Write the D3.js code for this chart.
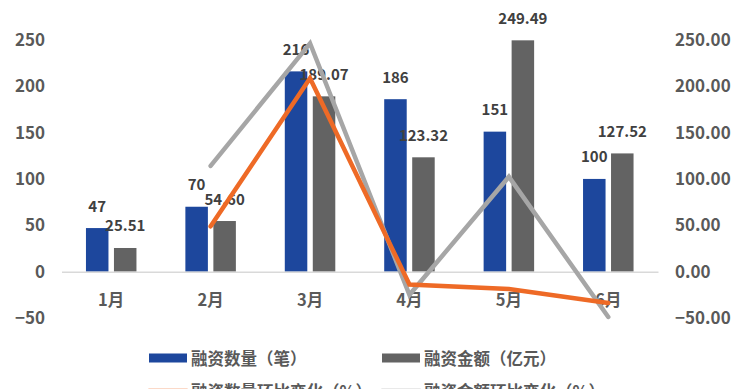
<!DOCTYPE html>
<html><head><meta charset="utf-8">
<script src="https://cdn.jsdelivr.net/npm/d3@7"></script>
<style>body{margin:0;background:#fff;}svg{display:block;}</style>
</head><body><div id="chart"></div>
<script>
const months = ["1月","2月","3月","4月","5月","6月"];
const countValues = [47, 70, 216, 186, 151, 100];
const amountValues = [25.51, 54.60, 189.07, 123.32, 249.49, 127.52];
const countMoM = [null, 48.9, 208.6, -13.9, -18.8, -33.8];
const amountMoM = [null, 114.0, 246.3, -25.0, 102.3, -48.9];
const leftTicks = [-50, 0, 50, 100, 150, 200, 250];
const rightTicks = [-50, 0, 50, 100, 150, 200, 250];
const seriesNames = ["融资数量（笔）", "融资金额（亿元）", "融资数量环比变化（%）", "融资金额环比变化（%）"];
const colors = {count:"#1D479D", amount:"#636363", countLine:"#EE6A26", amountLine:"#A6A6A6"};

const W = 750, H = 389;
const font = "'Noto Sans CJK SC','Noto Sans',sans-serif";
const svg = d3.select("#chart").append("svg").attr("width", W).attr("height", H)
  .style("font-family", font);

const x = d3.scaleBand().domain(months).range([61.5, 658]).paddingInner(0).paddingOuter(0);
const x1 = d3.scaleBand().domain(["count","amount"]).range([-25.25, 25.25]).paddingInner(0.196);
const y = d3.scaleLinear().domain([-50, 300]).range([318, -6.5]);
const yR = d3.scaleLinear().domain([-50, 300]).range([318, -6.5]);
const cx = m => x(m) + x.bandwidth()/2;

// left axis labels
const leftAxis = d3.axisLeft(y).tickValues(leftTicks).tickSize(0).tickPadding(0).tickFormat(d3.format("d"));
const gL = svg.append("g").attr("transform","translate(45,0)").call(leftAxis);
gL.select(".domain").remove();
gL.selectAll("text").attr("fill","#595959").style("font-size","17px").style("font-weight","bold").style("font-family",font);

const rightAxis = d3.axisRight(yR).tickValues(rightTicks).tickSize(0).tickPadding(0).tickFormat(d3.format(".2f"));
const gR = svg.append("g").attr("transform","translate(675,0)").call(rightAxis);
gR.select(".domain").remove();
gR.selectAll("text").attr("fill","#595959").style("font-size","17px").style("font-weight","bold").style("font-family",font);

// bars
const data = months.map((m,i)=>({m, count:countValues[i], amount:amountValues[i]}));
const groups = svg.append("g").selectAll("g").data(data).join("g")
  .attr("transform", d => `translate(${cx(d.m)},0)`);
groups.append("rect").attr("x", x1("count")).attr("width", x1.bandwidth())
  .attr("y", d => y(d.count)).attr("height", d => y(0) - y(d.count)).attr("fill", colors.count);
groups.append("rect").attr("x", x1("amount")).attr("width", x1.bandwidth())
  .attr("y", d => y(d.amount)).attr("height", d => y(0) - y(d.amount)).attr("fill", colors.amount);

// axis baseline
const bottomAxis = d3.axisBottom(x).tickSize(0).tickPadding(0);
const gB = svg.append("g").attr("transform", `translate(0,${y(0)})`).call(bottomAxis);
gB.select(".domain").attr("stroke","#D9D9D9").attr("stroke-width",1.5);
gB.selectAll("text").attr("fill","#595959").style("font-size","16.5px").style("font-weight","bold")
  .style("font-family",font).attr("dy",null).attr("y",0).attr("transform","translate(0,27)")
  .attr("dominant-baseline","central");

// data labels
const lbl = svg.append("g").style("font-size","15px").style("font-weight","bold").attr("fill","#404040").attr("text-anchor","middle");
lbl.selectAll("text.c").data(data).join("text").attr("class","c")
  .attr("x", d => cx(d.m) + x1("count") + x1.bandwidth()/2).attr("y", d => y(d.count) - 16.5)
  .text(d => d.count);
lbl.selectAll("text.a").data(data).join("text").attr("class","a")
  .attr("x", d => cx(d.m) + x1("amount") + x1.bandwidth()/2).attr("y", d => y(d.amount) - 16.5)
  .text(d => d.amount.toFixed(2));

// lines
const line = d3.line().defined(d => d.v !== null).x(d => cx(d.m)).y(d => yR(d.v));
svg.append("path").datum(months.map((m,i)=>({m, v:amountMoM[i]})))
  .attr("d", line).attr("fill","none").attr("stroke",colors.amountLine).attr("stroke-width",4.5)
  .attr("stroke-linejoin","miter").attr("stroke-linecap","round");
svg.append("path").datum(months.map((m,i)=>({m, v:countMoM[i]})))
  .attr("d", line).attr("fill","none").attr("stroke",colors.countLine).attr("stroke-width",4.5)
  .attr("stroke-linejoin","miter").attr("stroke-linecap","round");

// legend
const leg = svg.append("g").style("font-size","16.5px").style("font-weight","bold").attr("fill","#595959");
const legItems = [
  {name:seriesNames[0], type:"rect", color:colors.count, x:149, y:358},
  {name:seriesNames[1], type:"rect", color:colors.amount, x:382, y:358},
  {name:seriesNames[2], type:"line", color:colors.countLine, x:149, y:391},
  {name:seriesNames[3], type:"line", color:colors.amountLine, x:382, y:391}
];
legItems.forEach(it => {
  if (it.type === "rect") {
    leg.append("rect").attr("x", it.x).attr("y", it.y - 4.5).attr("width", 38).attr("height", 9).attr("fill", it.color);
  } else {
    leg.append("line").attr("x1", it.x).attr("x2", it.x + 38).attr("y1", it.y).attr("y2", it.y)
      .attr("stroke", it.color).attr("stroke-width", 4.5).attr("stroke-linecap","round");
  }
  leg.append("text").attr("x", it.x + 42).attr("y", it.y).attr("dominant-baseline","central").text(it.name);
});
</script></body></html>
